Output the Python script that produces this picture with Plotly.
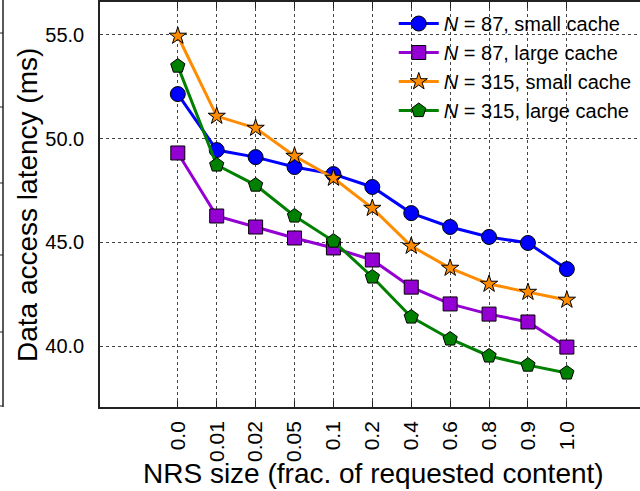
import plotly.graph_objects as go

categories = ["0.0", "0.01", "0.02", "0.05", "0.1", "0.2", "0.4", "0.6", "0.8", "0.9", "1.0"]

n87_small = [52.15, 49.45, 49.11, 48.63, 48.29, 47.67, 46.41, 45.74, 45.26, 44.97, 43.71]
n87_large = [49.31, 46.27, 45.74, 45.21, 44.73, 44.15, 42.84, 42.03, 41.54, 41.16, 39.95]
n315_small = [54.95, 51.09, 50.51, 49.16, 48.10, 46.65, 44.82, 43.76, 42.99, 42.60, 42.22]
n315_large = [53.50, 48.73, 47.76, 46.27, 45.06, 43.33, 41.40, 40.34, 39.52, 39.08, 38.70]

y_ticks = [40.0, 45.0, 50.0, 55.0]

x_title = "NRS size (frac. of requested content)"
y_title = "Data access latency (ms)"

series = [
    ("<i>N</i> = 87, small cache", n87_small, "#0000FF", "circle", 15),
    ("<i>N</i> = 87, large cache", n87_large, "#9400D3", "square", 14),
    ("<i>N</i> = 315, small cache", n315_small, "#FF8C00", "star", 13),
    ("<i>N</i> = 315, large cache", n315_large, "#008000", "pentagon", 15),
]

idx = list(range(len(categories)))

fig = go.Figure()
for name, vals, color, sym, size in series:
    fig.add_trace(go.Scatter(
        x=idx, y=vals, name=name, mode="lines+markers",
        line=dict(color=color, width=3),
        marker=dict(symbol=sym, size=size, color=color,
                    line=dict(color="black", width=1)),
    ))

font = "Liberation Sans, Arial, sans-serif"

fig.update_layout(
    template="none",
    width=640, height=491,
    margin=dict(l=100, r=0, t=2, b=84, pad=0),
    paper_bgcolor="white", plot_bgcolor="white",
    font=dict(family=font, color="black"),
    showlegend=True,
    legend=dict(x=0.544, y=0.995, xanchor="left", yanchor="top",
                bgcolor="rgba(255,255,255,0)", borderwidth=0,
                font=dict(size=20, family=font), itemwidth=40,
                tracegroupgap=0),
    xaxis=dict(
        range=[-2, 11.88], automargin=False,
        tickmode="array", tickvals=idx, ticktext=categories,
        tickangle=-90, tickfont=dict(size=21),
        ticks="inside", ticklen=6, tickcolor="#222", tickwidth=1,
        ticklabelstandoff=4,
        showline=True, linecolor="#222", linewidth=1.5, mirror="ticks",
        showgrid=True, gridcolor="#444", griddash="dot", gridwidth=1,
        zeroline=False,
    ),
    yaxis=dict(
        range=[37.06, 56.59], automargin=False,
        tickmode="array", tickvals=y_ticks,
        ticktext=[f"{v:.1f}" for v in y_ticks],
        tickfont=dict(size=20),
        ticks="", ticklabelstandoff=10,
        showline=True, linecolor="#222", linewidth=1.5, mirror=False,
        showgrid=True, gridcolor="#444", griddash="dot", gridwidth=1,
        zeroline=False,
    ),
)

fig.add_annotation(text=x_title, xref="paper", yref="paper",
                   x=0.506, y=-0.1654, xanchor="center", yanchor="middle",
                   showarrow=False, font=dict(size=28, family=font))
fig.add_annotation(text=y_title, xref="paper", yref="paper",
                   x=-72/540, y=0.4988, xanchor="center", yanchor="middle",
                   textangle=-90, showarrow=False, font=dict(size=28, family=font))

# fragment of a neighbouring axis at the far left edge
fig.add_shape(type="line", xref="paper", yref="paper",
              x0=-97/540, x1=-97/540, y0=0.0, y1=1.01,
              line=dict(color="#222", width=1.5))
for py in [33, 107, 183, 255, 332, 406]:
    yp = (407 - py) / 405
    fig.add_shape(type="line", xref="paper", yref="paper",
                  x0=-100/540, x1=-97/540, y0=yp, y1=yp,
                  line=dict(color="#222", width=1))

fig.write_html("out.html",
               config={"displayModeBar": False},
               post_script="document.body.style.margin='0px';")
